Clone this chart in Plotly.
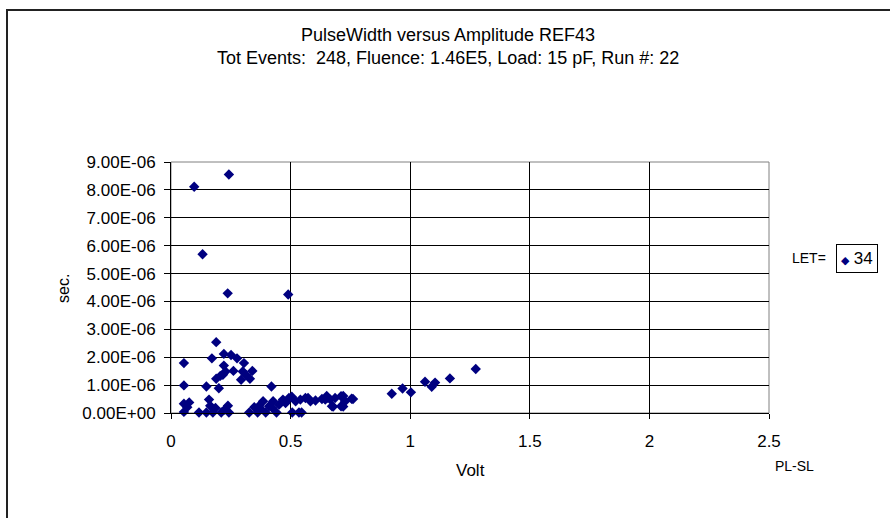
import plotly.graph_objects as go

# ---- data ----
title_line1 = "PulseWidth versus Amplitude REF43"
title_line2 = "Tot Events:  248, Fluence: 1.46E5, Load: 15 pF, Run #: 22"
series_name = "34"
legend_prefix = "LET="
x_title = "Volt"
y_title = "sec."
corner_note = "PL-SL"

volt = [
    0.097, 0.242, 0.132, 0.237, 0.490,
    0.054, 0.189, 0.171, 0.221, 0.251, 0.276, 0.221, 0.305, 0.261, 0.228,
    0.300, 0.340, 0.206, 0.189, 0.217, 0.293, 0.330, 0.313,
    0.054, 0.148, 0.200, 0.420,
    0.054, 0.076, 0.054, 0.068, 0.117, 0.159, 0.164, 0.148, 0.175, 0.186,
    0.210, 0.238, 0.242, 0.224, 0.327, 0.348, 0.362, 0.369, 0.385, 0.396,
    0.410, 0.427, 0.441, 0.452, 0.468, 0.493, 0.507, 0.535, 0.521, 0.541,
    0.562, 0.583, 0.604, 0.631, 0.652, 0.673, 0.686, 0.711, 0.711, 0.728,
    0.755, 0.376, 0.424, 0.479, 0.645, 0.666, 0.505, 0.546, 0.573, 0.651,
    0.678, 0.720, 0.720, 0.761,
    0.923, 0.968, 1.003, 1.062, 1.090, 1.104, 1.166, 1.274,
]
sec = [
    8.11e-6, 8.55e-6, 5.69e-6, 4.29e-6, 4.25e-6,
    1.79e-6, 2.54e-6, 1.96e-6, 2.12e-6, 2.08e-6, 1.96e-6, 1.70e-6, 1.79e-6, 1.51e-6, 1.49e-6,
    1.49e-6, 1.51e-6, 1.33e-6, 1.23e-6, 1.37e-6, 1.19e-6, 1.23e-6, 1.37e-6,
    0.99e-6, 0.95e-6, 0.89e-6, 0.95e-6,
    0.33e-6, 0.38e-6, 0.04e-6, 0.21e-6, 0.02e-6, 0.48e-6, 0.26e-6, 0.02e-6, 0.02e-6, 0.18e-6,
    0.02e-6, 0.26e-6, 0.02e-6, 0.12e-6, 0.02e-6, 0.21e-6, 0.02e-6, 0.26e-6, 0.42e-6, 0.02e-6,
    0.24e-6, 0.42e-6, 0.02e-6, 0.30e-6, 0.48e-6, 0.54e-6, 0.02e-6, 0.02e-6, 0.42e-6, 0.48e-6,
    0.54e-6, 0.42e-6, 0.45e-6, 0.50e-6, 0.54e-6, 0.24e-6, 0.54e-6, 0.60e-6, 0.24e-6, 0.42e-6,
    0.51e-6, 0.14e-6, 0.18e-6, 0.36e-6, 0.48e-6, 0.48e-6, 0.58e-6, 0.02e-6, 0.54e-6, 0.61e-6,
    0.23e-6, 0.23e-6, 0.61e-6, 0.50e-6,
    0.69e-6, 0.88e-6, 0.74e-6, 1.12e-6, 0.94e-6, 1.09e-6, 1.24e-6, 1.58e-6,
]

y_tickvals = [0, 1e-6, 2e-6, 3e-6, 4e-6, 5e-6, 6e-6, 7e-6, 8e-6, 9e-6]
y_ticktext = ["0.00E+00", "1.00E-06", "2.00E-06", "3.00E-06", "4.00E-06",
              "5.00E-06", "6.00E-06", "7.00E-06", "8.00E-06", "9.00E-06"]
x_tickvals = [0, 0.5, 1, 1.5, 2, 2.5]
x_ticktext = ["0", "0.5", "1", "1.5", "2", "2.5"]

# ---- figure ----
FONT = "Liberation Sans, Arial, sans-serif"
NAVY = "#000080"

fig = go.Figure()
fig.add_trace(go.Scatter(
    x=volt, y=sec, mode="markers", name=series_name,
    marker=dict(symbol="diamond", size=8, color=NAVY, line=dict(width=0)),
    cliponaxis=False, showlegend=False,
))

fig.update_layout(
    width=890, height=518,
    margin=dict(l=171, r=121, t=162, b=105),
    paper_bgcolor="white", plot_bgcolor="white",
    font=dict(family=FONT, color="black", size=17),
    showlegend=False,
)
fig.update_xaxes(
    range=[0, 2.5], tickvals=x_tickvals, ticktext=x_ticktext,
    showgrid=True, gridcolor="#000000", gridwidth=1, zeroline=False,
    showline=True, linecolor="black", linewidth=1,
    ticks="outside", ticklen=5, tickcolor="black", ticklabelstandoff=8,
    tickfont=dict(size=17),
)
fig.update_yaxes(
    range=[0, 9e-6], tickvals=y_tickvals, ticktext=y_ticktext,
    showgrid=True, gridcolor="#000000", gridwidth=1, zeroline=False,
    showline=True, linecolor="black", linewidth=1,
    ticks="outside", ticklen=6, tickcolor="black", ticklabelstandoff=5,
    tickfont=dict(size=17),
)

def px_x(p):
    return (p - 171) / 598.0

def px_y(p):
    return (413 - p) / 251.0

shapes = [
    # plot area edge (top/right grey)
    dict(type="rect", xref="paper", yref="paper", x0=0, y0=0, x1=1, y1=1,
         line=dict(color="#808080", width=1), layer="below"),
    # outer chart border (runs off right and bottom)
    dict(type="rect", xref="paper", yref="paper",
         x0=px_x(7), y0=px_y(540), x1=px_x(900), y1=px_y(10),
         line=dict(color="#222222", width=2)),
]

annotations = [
    dict(text=title_line1, xref="paper", yref="paper", x=px_x(448), y=px_y(35),
         xanchor="center", yanchor="middle", showarrow=False, font=dict(size=18)),
    dict(text=title_line2, xref="paper", yref="paper", x=px_x(448), y=px_y(58),
         xanchor="center", yanchor="middle", showarrow=False, font=dict(size=18)),
    dict(text=y_title, xref="paper", yref="paper", x=px_x(63), y=px_y(289),
         xanchor="center", yanchor="middle", showarrow=False, textangle=-90,
         font=dict(size=16)),
    dict(text=x_title, xref="paper", yref="paper", x=px_x(470), y=px_y(470),
         xanchor="center", yanchor="middle", showarrow=False, font=dict(size=17)),
    dict(text=corner_note, xref="paper", yref="paper", x=px_x(794), y=px_y(466),
         xanchor="center", yanchor="middle", showarrow=False, font=dict(size=14)),
    dict(text=legend_prefix, xref="paper", yref="paper", x=px_x(828), y=px_y(258),
         xanchor="right", yanchor="middle", showarrow=False, font=dict(size=14)),
    dict(text="<span style='color:%s;font-size:11px'>\u25C6</span> %s" % (NAVY, series_name),
         xref="paper", yref="paper", x=px_x(857), y=px_y(258.5),
         xanchor="center", yanchor="middle", showarrow=False, font=dict(size=17),
         bordercolor="black", borderwidth=1, borderpad=4, bgcolor="white"),
]
fig.update_layout(shapes=shapes, annotations=annotations)

fig.write_html("out.html")
